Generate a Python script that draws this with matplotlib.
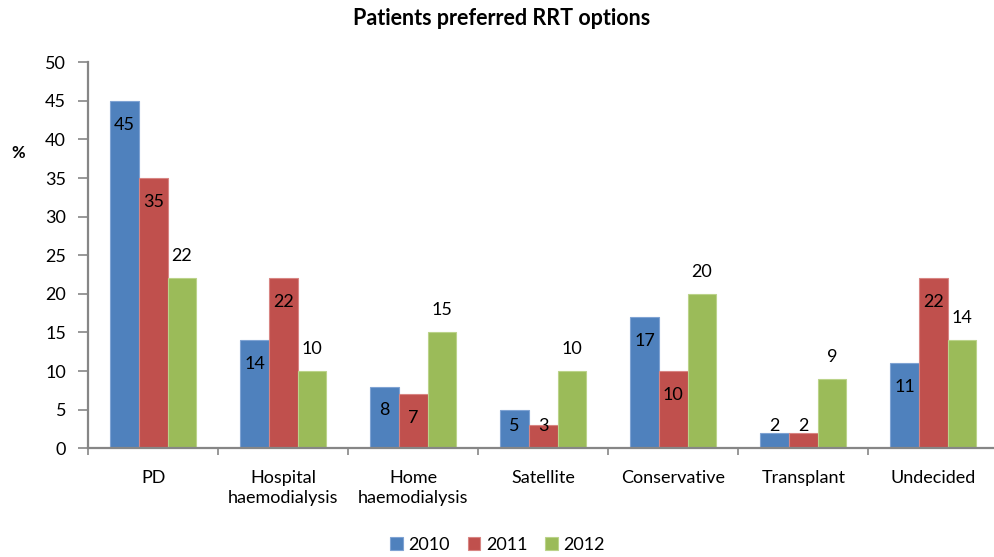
import numpy as np
import matplotlib
matplotlib.use("Agg")
import matplotlib.pyplot as plt

plt.rcParams['font.family'] = ['Lato', 'DejaVu Sans']

categories = ["PD", "Hospital\nhaemodialysis", "Home\nhaemodialysis", "Satellite",
              "Conservative", "Transplant", "Undecided"]
years = ["2010", "2011", "2012"]
v2010 = [45, 14, 8, 5, 17, 2, 11]
v2011 = [35, 22, 7, 3, 10, 2, 22]
v2012 = [22, 10, 15, 10, 20, 9, 14]
colors = ["#4F81BD", "#C0504D", "#9BBB59"]
edges = ["#7FA3D3", "#D88583", "#BBD38A"]

fs = 13

fig = plt.figure(figsize=(9.95, 5.57), dpi=100)
ax = fig.add_axes([0.0887, 0.1952, 0.9146, 0.693])

x = np.arange(len(categories))
w = 0.221
series = [v2010, v2011, v2012]
for i, vals in enumerate(series):
    xs = x + (i - 1) * w
    ax.bar(xs, vals, width=w, color=colors[i], edgecolor=edges[i], linewidth=0.8,
           label=years[i], zorder=2)
    for xi, v in zip(xs, vals):
        if i < 2:
            # inside end, clamped near the base for short bars
            ty = max(v - 3.1, 2.85)
        else:
            ty = v + 2.85
        ax.text(xi, ty, str(v), ha='center', va='center', fontsize=fs, color='black')

ax.set_xlim(-0.5, 6.5)
ax.set_ylim(0, 50)
ax.set_yticks(range(0, 51, 5))

ax.set_xticks(x)
ax.set_xticklabels(categories, fontsize=fs, linespacing=1.25)
ax.set_xticks(np.arange(-0.5, 7, 1), minor=True)
ax.tick_params(axis='x', which='major', length=0, pad=16)
ax.tick_params(axis='x', which='minor', length=5, width=1.2, color='#868686', direction='out')
ax.tick_params(axis='y', length=7, width=1.2, color='#868686', labelsize=fs, pad=9)

for s in ['top', 'right']:
    ax.spines[s].set_visible(False)
for s in ['left', 'bottom']:
    ax.spines[s].set_color('#868686')
    ax.spines[s].set_linewidth(1.6)

fig.text(0.504, 0.967, "Patients preferred RRT options", ha='center', va='center',
         fontsize=15.5, fontweight='bold')
fig.text(0.018, 0.725, "%", ha='center', va='center', fontsize=12, fontweight='bold')

fig.legend(loc='center', bbox_to_anchor=(0.5, 0.022), ncol=3, frameon=False,
           fontsize=fs, handlelength=0.7, handleheight=0.7, handletextpad=0.3,
           columnspacing=1.0, borderaxespad=0)

fig.savefig("out.png", dpi=100)
